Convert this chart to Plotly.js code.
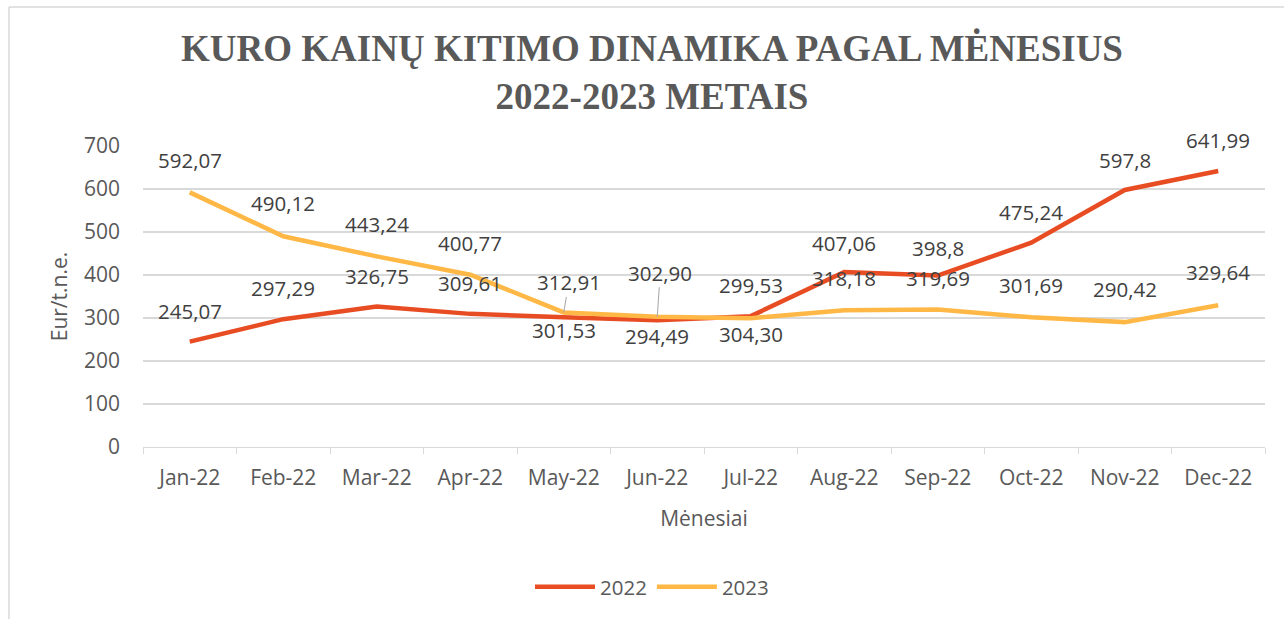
<!DOCTYPE html>
<html>
<head>
<meta charset="utf-8">
<script src="https://cdn.plot.ly/plotly-3.0.1.min.js"></script>
<style>html,body{margin:0;padding:0;background:#fff}#chart{width:1284px;height:619px}</style>
</head>
<body>
<div id="chart"></div>
<script>
var months = ["Jan-22","Feb-22","Mar-22","Apr-22","May-22","Jun-22","Jul-22","Aug-22","Sep-22","Oct-22","Nov-22","Dec-22"];
var values2022 = [245.07, 297.29, 326.75, 309.61, 301.53, 294.49, 304.30, 407.06, 398.8, 475.24, 597.8, 641.99];
var values2023 = [592.07, 490.12, 443.24, 400.77, 312.91, 302.90, 299.53, 318.18, 319.69, 301.69, 290.42, 329.64];
var labels2022 = ["245,07","297,29","326,75","309,61","301,53","294,49","304,30","407,06","398,8","475,24","597,8","641,99"];
var labels2023 = ["592,07","490,12","443,24","400,77","312,91","302,90","299,53","318,18","319,69","301,69","290,42","329,64"];
var yTicks = [0, 100, 200, 300, 400, 500, 600, 700];

var C2022 = "#E84C22", C2023 = "#FFB846";
var FONT = "Open Sans, Noto Sans, sans-serif";
var labelFont = {family: FONT, size: 20.5, color: "#404040"};

// label placement (styling): above/below shift in px, leader line for some
var shift2022 = [31,31,31,31,-13,-16,-18,29,28,31,30,31];
var shift2023 = [32,33,32,32,null,null,33,32,32,32,33,33];

var annotations = [];
months.forEach(function(m, i){
  annotations.push({x: m, y: values2022[i], xref: "x", yref: "y", text: labels2022[i],
    showarrow: false, xanchor: "center", yanchor: "middle", yshift: shift2022[i], font: labelFont});
  if (shift2023[i] !== null) {
    annotations.push({x: m, y: values2023[i], xref: "x", yref: "y", text: labels2023[i],
      showarrow: false, xanchor: "center", yanchor: "middle", yshift: shift2023[i], font: labelFont});
  }
});
// leader-line labels (May, Jun 2023)
annotations.push({x: months[4], y: values2023[4], xref: "x", yref: "y", text: labels2023[4],
  showarrow: true, arrowhead: 0, arrowwidth: 1, arrowcolor: "#A6A6A6", ax: 5, ay: -30, standoff: 0,
  font: labelFont, borderpad: 0});
annotations.push({x: months[5], y: values2023[5], xref: "x", yref: "y", text: labels2023[5],
  showarrow: true, arrowhead: 0, arrowwidth: 1, arrowcolor: "#A6A6A6", ax: 3, ay: -44, standoff: 0,
  font: labelFont, borderpad: 0});

var traces = [
  {x: months, y: values2022, type: "scatter", mode: "lines", name: "2022",
   line: {color: C2022, width: 4.5}, hoverinfo: "skip"},
  {x: months, y: values2023, type: "scatter", mode: "lines", name: "2023",
   line: {color: C2023, width: 4.5}, hoverinfo: "skip"}
];

var gray = "#595959";
var layout = {
  width: 1284, height: 619,
  margin: {l: 143, r: 19, t: 146, b: 172},
  paper_bgcolor: "#ffffff", plot_bgcolor: "#ffffff",
  showlegend: true,
  title: {
    text: "<b>KURO KAINŲ KITIMO DINAMIKA PAGAL MĖNESIUS<br>2022-2023 METAIS</b>",
    font: {family: "Liberation Serif, Times New Roman, serif", size: 37, color: gray},
    x: 652/1284, xref: "container", xanchor: "center",
    y: 1 - 61/619, yref: "container", yanchor: "top"
  },
  xaxis: {
    type: "category", range: [-0.5, 11.5], tickson: "boundaries", ticks: "outside", ticklen: 6, tickcolor: "#D9D9D9",
    showline: true, linecolor: "#D9D9D9", linewidth: 1.3, showgrid: false, zeroline: false,
    tickfont: {family: FONT, size: 21, color: gray},
    ticklabelstandoff: 11,
    title: {text: "Mėnesiai", font: {family: FONT, size: 21, color: gray}, standoff: 21},
    fixedrange: true
  },
  yaxis: {
    range: [0, 700], tickvals: yTicks, ticks: "", showline: false, zeroline: false,
    gridcolor: "#D9D9D9", gridwidth: 1.3,
    tickfont: {family: FONT, size: 21, color: gray},
    ticklabelstandoff: 22,
    title: {text: "Eur/t.n.e.", font: {family: FONT, size: 21, color: gray}, standoff: 10},
    fixedrange: true
  },
  legend: {
    orientation: "h", x: (652-143)/1122, xanchor: "center", y: (447-587)/301, yanchor: "middle",
    font: {family: FONT, size: 20.5, color: gray},
    itemwidth: 60, bgcolor: "rgba(0,0,0,0)"
  },
  annotations: annotations,
  shapes: [
    {type: "line", xref: "paper", yref: "paper", x0: (9-143)/1122, x1: (9-143)/1122,
     y0: (447-7)/301, y1: (447-640)/301, line: {color: "#D9D9D9", width: 1.5}},
    {type: "line", xref: "paper", yref: "paper", x0: (9-143)/1122, x1: (1300-143)/1122,
     y0: (447-7)/301, y1: (447-7)/301, line: {color: "#D9D9D9", width: 1.5}}
  ]
};

Plotly.newPlot("chart", traces, layout, {displayModeBar: false, staticPlot: true});
</script>
</body>
</html>
